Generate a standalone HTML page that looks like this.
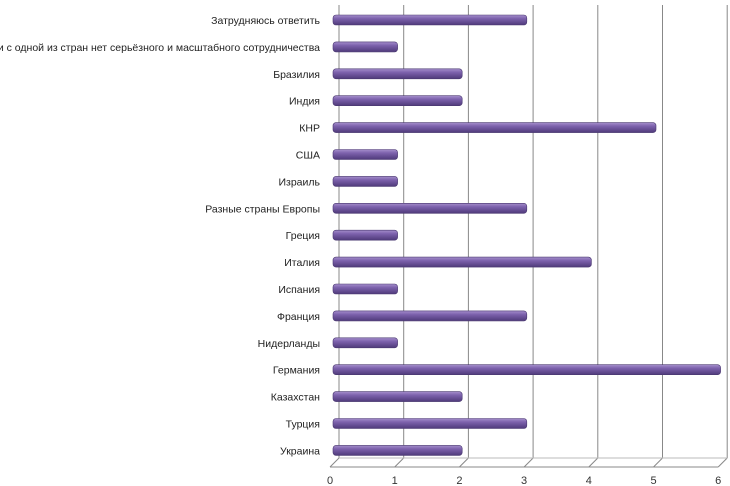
<!DOCTYPE html>
<html><head><meta charset="utf-8"><style>
body{margin:0;background:#fff;}
svg{display:block;font-family:"Liberation Sans",sans-serif;}
</style></head><body>
<svg id="c" width="730" height="486">
<defs>
<linearGradient id="bg" x1="0" y1="0" x2="0" y2="1">
<stop offset="0" stop-color="#a58fcc"/><stop offset="0.35" stop-color="#7d62ad"/><stop offset="1" stop-color="#4f3a7a"/>
</linearGradient>
</defs>
<g id="grid"></g><g id="bars"></g><g id="labels"></g>
</svg>
<script>
const categories=["Затрудняюсь ответить","Ни с одной из стран нет серьёзного и масштабного сотрудничества","Бразилия","Индия","КНР","США","Израиль","Разные страны Европы","Греция","Италия","Испания","Франция","Нидерланды","Германия","Казахстан","Турция","Украина"];
const values=[3,1,2,2,5,1,1,3,1,4,1,3,1,6,2,3,2];
const ticks=[0,1,2,3,4,5,6];
const NS="http://www.w3.org/2000/svg";
const svg=document.getElementById('c');
const gG=document.getElementById('grid'),gB=document.getElementById('bars'),gL=document.getElementById('labels');
const xBack=v=>339+64.7*v, xFront=v=>330+64.7*v, xBar=v=>333+64.6*v;
const yRow=i=>20+i*26.9;
function mk(t,a,p){const e=document.createElementNS(NS,t);for(const k in a)e.setAttribute(k,a[k]);p.appendChild(e);return e;}
ticks.forEach(t=>{
 const l=mk('line',{x1:xBack(t),y1:5,x2:xBack(t),y2:458,stroke:'#888','stroke-width':1},gG);
 
 
 const d=mk('line',{x1:xBack(t),y1:458,x2:xFront(t),y2:467,stroke:'#888','stroke-width':1},gG);
 
 
 const tx=mk('text',{x:xFront(t),y:484,'font-size':11,'text-anchor':'middle',fill:'#333'},gL);
 tx.textContent=t;
 
 
});
const fl=mk('line',{x1:xFront(0),y1:467,x2:xFront(6),y2:467,stroke:'#888','stroke-width':1},gG);


const bl=mk('line',{x1:xBack(0),y1:458,x2:xBack(6),y2:458,stroke:'#bbb','stroke-width':1},gG);


categories.forEach((c,i)=>{
 const y=yRow(i);
 const r=mk('rect',{x:xBar(0),y:y-5,width:xBar(values[i])-xBar(0),height:10,rx:3,fill:'url(#bg)',stroke:'#4a3870','stroke-width':0.6},gB);
 
 
 const t=mk('text',{x:320,y:y+4,'font-size':10.5,'text-anchor':'end',fill:'#222'},gL);
 t.textContent=c;
 
 
});
</script>
</body></html>
